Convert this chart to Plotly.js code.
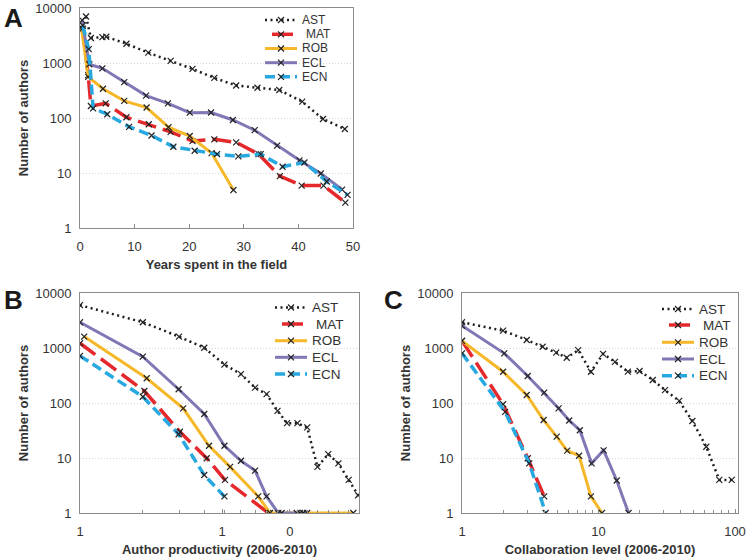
<!DOCTYPE html>
<html>
<head>
<meta charset="utf-8">
<script src="https://cdn.plot.ly/plotly-3.0.1.min.js"></script>
<style>
  html, body { margin: 0; padding: 0; background: #fff; }
  #chart { width: 746px; height: 559px; }
</style>
</head>
<body>
<div id="chart"></div>
<script>
// Values. Number of authors per field, three panels.
var FIELDS = ["AST", "MAT", "ROB", "ECL", "ECN"];

// A: years spent in the field
var A_AST_X = [1.1, 2.0, 4.1, 4.8, 8.5, 12.5, 16.6, 20.6, 24.6, 28.6, 32.5, 36.5, 40.7, 44.5, 48.5];
var A_AST_Y = [7000, 2850, 2950, 3000, 2240, 1540, 1090, 780, 535, 390, 355, 323, 198, 96, 63];
var A_MAT_X = [0.5, 1.5, 2.0, 4.7, 8.5, 12.6, 16.6, 20.6, 24.6, 28.6, 32.7, 36.6, 40.6, 44.6, 48.6];
var A_MAT_Y = [4200, 600, 165, 185, 103, 77, 56, 38, 41, 36, 22, 8.8, 5.9, 5.9, 2.9];
var A_ROB_X = [0.3, 1.5, 4.2, 8.1, 12.2, 16.2, 20.1, 24.1, 28.1];
var A_ROB_Y = [4100, 560, 340, 205, 155, 68, 47, 23, 4.9];
var A_ECL_X = [0.4, 1.7, 4.1, 8.1, 12.1, 16.1, 20.1, 24.0, 28.0, 32.0, 36.1, 40.2, 44.1, 48.0];
var A_ECL_Y = [6000, 950, 800, 450, 255, 185, 125, 126, 92, 60, 31.5, 17, 9.8, 5];
var A_ECN_X = [0.5, 1.6, 2.4, 5.0, 9.0, 13.1, 17.1, 21.0, 25.1, 29.0, 33.1, 37.1, 41.1, 45.2, 49.0];
var A_ECN_Y = [4800, 1790, 150, 117, 69, 48, 30, 25.4, 22, 20, 22, 13, 15.5, 7, 4];

// B: author productivity (2006-2010)
var B_AST_X = [0.1, 0.277, 0.498, 0.75, 1.04, 1.36, 1.71, 2.06, 2.46, 2.87, 3.4, 3.98, 4.7, 5.6, 6.6, 7.8, 9.1];
var B_AST_Y = [6000, 2940, 1610, 1010, 500, 335, 190, 145, 72, 43, 43, 36, 6.9, 11.8, 8, 4, 2.1];
var B_MAT_X = [0.1, 0.284, 0.505, 0.78, 1.05, 2.12];
var B_MAT_Y = [1220, 165, 30, 9.9, 4, 1];
var B_ROB_X = [0.107, 0.295, 0.533, 0.81, 1.14, 1.8, 2.18, 8.41];
var B_ROB_Y = [1610, 282, 80, 16.7, 6.9, 2, 1, 1];
var B_ECL_X = [0.1, 0.277, 0.495, 0.75, 1.04, 1.36, 1.71, 2.06, 2.49, 2.63, 3.36, 3.54, 3.74, 3.98];
var B_ECL_Y = [2940, 695, 178, 63, 16.7, 8.9, 5.9, 2, 1, 1, 1, 1, 1, 1];
var B_ECN_X = [0.1, 0.277, 0.495, 0.75, 1.04];
var B_ECN_Y = [720, 130, 27, 4.9, 2];
var B_TICK_VALS = [0.1, 1, 3];
var B_TICK_TEXT = ["1", "1", "0"];

// C: collaboration level (2006-2010)
var C_AST_X = [1, 2.0, 2.98, 3.9, 4.9, 5.85, 7.1, 8.8, 10.8, 13.2, 16.4, 20, 25, 30.7, 39, 48.7, 61.6, 76.7, 94.6];
var C_AST_Y = [2940, 2065, 1400, 1055, 822, 665, 915, 370, 780, 560, 371, 382, 262, 172, 109, 47, 16, 4, 4];
var C_MAT_X = [1, 2.0, 3.03, 4.0];
var C_MAT_Y = [1350, 95, 9.9, 2];
var C_ROB_X = [1, 2.0, 2.98, 3.96, 4.94, 5.9, 7.2, 8.8, 10.6];
var C_ROB_Y = [1350, 370, 140, 49, 24.5, 13.6, 11, 2, 1];
var C_ECL_X = [1, 2.04, 3.03, 4.0, 5.1, 6.1, 7.3, 8.9, 10.9, 13.6, 16.6];
var C_ECL_Y = [2540, 800, 310, 154, 80, 48, 32, 8, 13.8, 3.9, 1];
var C_ECN_X = [1, 2.07, 3.11, 4.1];
var C_ECN_Y = [800, 69, 8, 1];

var LOG_TICKS = [1, 10, 100, 1000, 10000];
var LOG_TEXT = ["1", "10", "100", "1000", "10000"];

(function () {
  "use strict";

  var W = 746, H = 559;
  var FONT = "Liberation Sans, Arial, sans-serif";
  var INK = "#333333";
  var FRAME = "#8c8c8c";

  var STYLE = {
    AST: { color: "#1e1e1e", width: 2.5, dash: "2px,3.5px" },
    MAT: { color: "#e4282c", width: 3.5, dash: "19px,7px" },
    ROB: { color: "#f6b828", width: 3, dash: "solid" },
    ECL: { color: "#7f78b5", width: 3, dash: "solid" },
    ECN: { color: "#27a8e0", width: 3.5, dash: "10px,5px" }
  };

  var DATA = {
    A: { AST: [A_AST_X, A_AST_Y], MAT: [A_MAT_X, A_MAT_Y], ROB: [A_ROB_X, A_ROB_Y], ECL: [A_ECL_X, A_ECL_Y], ECN: [A_ECN_X, A_ECN_Y] },
    B: { AST: [B_AST_X, B_AST_Y], MAT: [B_MAT_X, B_MAT_Y], ROB: [B_ROB_X, B_ROB_Y], ECL: [B_ECL_X, B_ECL_Y], ECN: [B_ECN_X, B_ECN_Y] },
    C: { AST: [C_AST_X, C_AST_Y], MAT: [C_MAT_X, C_MAT_Y], ROB: [C_ROB_X, C_ROB_Y], ECL: [C_ECL_X, C_ECL_Y], ECN: [C_ECN_X, C_ECN_Y] }
  };

  // pixel box of each plot area in the 746x559 picture
  var BOX = {
    A: { x0: 80, x1: 353, y0: 8, y1: 228, ax: "", letter: [14, 18] },
    B: { x0: 80, x1: 359, y0: 293, y1: 513, ax: "2", letter: [13, 300] },
    C: { x0: 462, x1: 738, y0: 293, y1: 513, ax: "3", letter: [393, 300] }
  };

  // legend rows (px): sample line span, text x, row centres, font size
  var LEG = {
    A: { l0: 265, l1: 297, tx: 300, rows: [20, 34.3, 48.5, 62.7, 76.8], size: 12 },
    B: { l0: 275, l1: 307, tx: 310, rows: [307.5, 324, 340.7, 357.3, 374], size: 13.5 },
    C: { l0: 662, l1: 694, tx: 697, rows: [309, 325, 342.3, 359, 375.7], size: 13.5 }
  };

  function px(x) { return x / W; }
  function py(y) { return 1 - y / H; }

  var traces = [];
  var shapes = [];
  var annotations = [];

  ["A", "B", "C"].forEach(function (panel) {
    var ax = BOX[panel].ax;
    FIELDS.forEach(function (f) {
      var s = STYLE[f];
      traces.push({
        type: "scatter",
        mode: "lines+markers",
        x: DATA[panel][f][0],
        y: DATA[panel][f][1],
        xaxis: "x" + ax,
        yaxis: "y" + ax,
        name: f,
        line: { color: s.color, width: s.width, dash: s.dash },
        marker: { symbol: "x-thin", size: 6, color: "#222", line: { width: 1.2, color: "#222" } },
        showlegend: false,
        hoverinfo: "skip"
      });
    });

    // hand-built legend so the row spacing matches the figure
    var lg = LEG[panel];
    FIELDS.forEach(function (f, i) {
      var s = STYLE[f];
      var yy = py(lg.rows[i]);
      var l0 = f === "MAT" ? lg.l0 + 7 : lg.l0;
      var l1 = f === "MAT" ? lg.l1 - 4 : lg.l1;
      shapes.push({
        type: "line", xref: "paper", yref: "paper",
        x0: px(l0), x1: px(l1), y0: yy, y1: yy,
        line: { color: s.color, width: s.width, dash: f === "MAT" ? "solid" : s.dash }
      });
      shapes.push({
        type: "path", xref: "paper", yref: "paper",
        xsizemode: "pixel", ysizemode: "pixel",
        xanchor: px((lg.l0 + lg.l1) / 2), yanchor: yy,
        path: "M-3,-3L3,3M-3,3L3,-3",
        line: { color: "#222", width: 1.2 }
      });
      annotations.push({
        xref: "paper", yref: "paper",
        x: px(f === "MAT" ? lg.tx + 4 : lg.tx), y: yy,
        xanchor: "left", yanchor: "middle",
        text: f, showarrow: false,
        font: { family: FONT, size: lg.size, color: INK }
      });
    });

    var b = BOX[panel];
    annotations.push({
      xref: "paper", yref: "paper",
      x: px(b.letter[0]), y: py(b.letter[1]),
      xanchor: "center", yanchor: "middle",
      text: panel, showarrow: false,
      font: { family: FONT, size: 26, color: "#1a1a1a", weight: "bold" }
    });
  });

  function yAxis(panel) {
    var b = BOX[panel];
    return {
      type: "log",
      domain: [py(b.y1), py(b.y0)],
      anchor: "x" + b.ax,
      range: [0, 4],
      tickvals: LOG_TICKS,
      ticktext: LOG_TEXT,
      ticks: "",
      ticklen: 0,
      ticklabelstandoff: 5,
      showgrid: true,
      gridcolor: "#d4d4d4",
      griddash: "1px,2px",
      gridwidth: 1,
      zeroline: false,
      showline: true,
      mirror: true,
      linecolor: FRAME,
      linewidth: 1,
      tickfont: { family: FONT, size: 13, color: INK },
      title: { text: "Number of authors", standoff: 3,
               font: { family: FONT, size: 13, color: INK, weight: "bold" } }
    };
  }

  function xBase(panel, title) {
    var b = BOX[panel];
    return {
      domain: [px(b.x0), px(b.x1)],
      anchor: "y" + b.ax,
      ticks: "inside",
      ticklen: 4,
      tickcolor: FRAME,
      ticklabelstandoff: 6,
      showgrid: false,
      zeroline: false,
      showline: true,
      mirror: true,
      linecolor: FRAME,
      linewidth: 1,
      tickfont: { family: FONT, size: 13, color: INK },
      title: { text: title, standoff: 7,
               font: { family: FONT, size: 13, color: INK, weight: "bold" } }
    };
  }

  var xA = xBase("A", "Years spent in the field");
  Object.assign(xA, { range: [0, 50], tickvals: [0, 10, 20, 30, 40, 50] });

  var xB = xBase("B", "Author productivity (2006-2010)");
  Object.assign(xB, {
    type: "log",
    range: [-1, -1 + (BOX.B.x1 - BOX.B.x0) / 142],
    tickvals: B_TICK_VALS,
    ticktext: B_TICK_TEXT,
    minor: { tickvals: B_AST_X, ticks: "inside", ticklen: 3, tickcolor: FRAME, showgrid: false }
  });

  var xC = xBase("C", "Collaboration level (2006-2010)");
  Object.assign(xC, {
    type: "log",
    range: [0, (BOX.C.x1 - BOX.C.x0) / 136.5],
    tickvals: [1, 10, 100],
    ticktext: ["1", "10", "100"],
    minor: { tickvals: [2, 3, 4, 5, 6, 7, 8, 9, 20, 30, 40, 50, 60, 70, 80, 90],
             ticks: "inside", ticklen: 3, tickcolor: FRAME, showgrid: false }
  });

  var layout = {
    width: W,
    height: H,
    margin: { l: 0, r: 0, t: 0, b: 0 },
    paper_bgcolor: "#ffffff",
    plot_bgcolor: "#ffffff",
    showlegend: false,
    font: { family: FONT, color: INK },
    xaxis: xA, yaxis: yAxis("A"),
    xaxis2: xB, yaxis2: yAxis("B"),
    xaxis3: xC, yaxis3: yAxis("C"),
    shapes: shapes,
    annotations: annotations
  };

  Plotly.newPlot("chart", traces, layout, { staticPlot: true, displayModeBar: false });
})();
</script>
</body>
</html>
